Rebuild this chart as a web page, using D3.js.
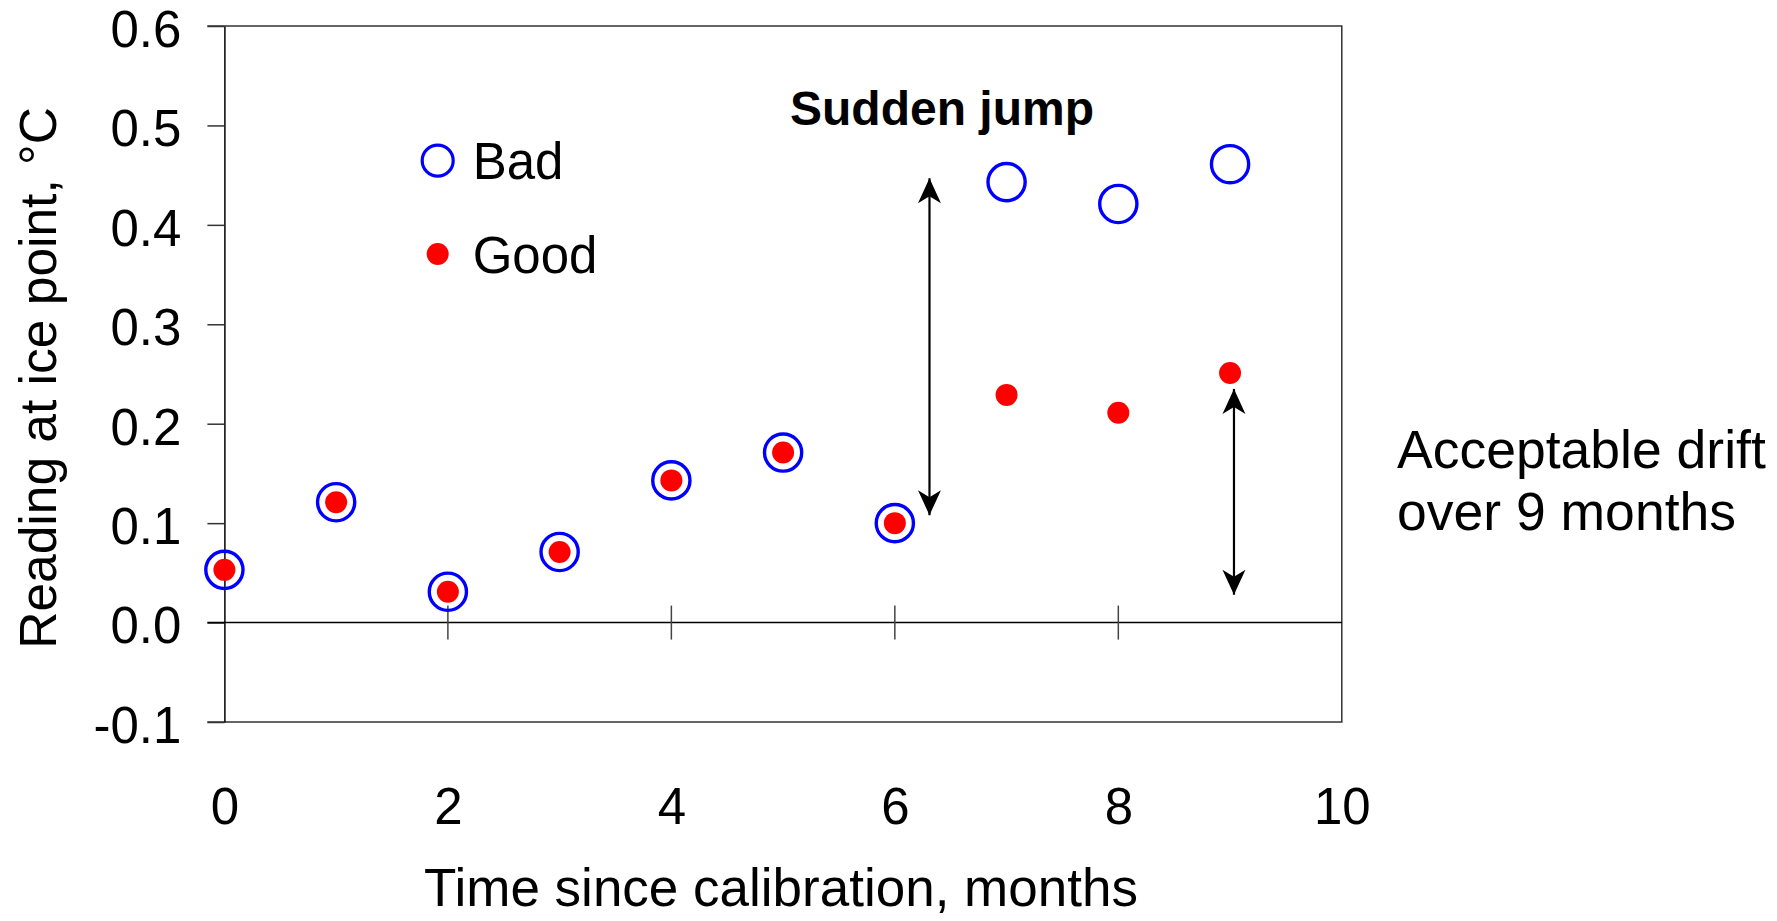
<!DOCTYPE html>
<html>
<head>
<meta charset="utf-8">
<script src="https://cdn.jsdelivr.net/npm/d3@7"></script>
<style>
  body { margin: 0; background: #fff; }
  text { font-family: "Liberation Sans", Arial, sans-serif; fill: #000; }
</style>
</head>
<body>
<div id="chart"></div>
<script>
// data
const months = [0, 1, 2, 3, 4, 5, 6, 7, 8, 9];
const badReadings = [0.053, 0.121, 0.031, 0.071, 0.143, 0.171, 0.100, 0.443, 0.421, 0.461];
const goodReadings = [0.053, 0.121, 0.031, 0.071, 0.143, 0.171, 0.100, 0.229, 0.211, 0.251];

const xTicks = [0, 2, 4, 6, 8, 10];
const xTickLabels = ["0", "2", "4", "6", "8", "10"];
const yTicks = [0.6, 0.5, 0.4, 0.3, 0.2, 0.1, 0.0, -0.1];
const yTickLabels = ["0.6", "0.5", "0.4", "0.3", "0.2", "0.1", "0.0", "-0.1"];

// annotation arrows, in data units (month, reading from -> to)
const jumpArrow = { month: 6.31, from: 0.108, to: 0.447 };
const driftArrow = { month: 9.035, from: 0.028, to: 0.235 };

const width = 1777, height = 921;
const plot = { left: 224.4, right: 1341.8, top: 26, bottom: 722 };

const svg = d3.select("#chart")
    .append("svg")
    .attr("width", width)
    .attr("height", height);

svg.append("rect").attr("width", width).attr("height", height).attr("fill", "#fff");

// Scales
const xScale = d3.scaleLinear().domain([0, 10]).range([plot.left, plot.right]);
const yScale = d3.scaleLinear().domain([-0.1, 0.6]).range([plot.bottom, plot.top]);

// Arrow head marker
const defs = svg.append("defs");
defs.append("marker")
    .attr("id", "head")
    .attr("markerUnits", "userSpaceOnUse")
    .attr("viewBox", "-26 -13 27 26")
    .attr("refX", 0)
    .attr("refY", 0)
    .attr("markerWidth", 27)
    .attr("markerHeight", 26)
    .attr("orient", "auto-start-reverse")
    .append("path")
    .attr("d", "M0,0 L-25,-11.5 L-18,0 L-25,11.5 Z")
    .attr("fill", "#000");

// Frame: top, right, bottom
const frame = svg.append("g").attr("stroke", "#333").attr("stroke-width", 1.5).attr("fill", "none");
frame.append("path")
    .attr("d", `M${plot.left - 17},${plot.top}H${plot.right}V${plot.bottom}H${plot.left - 17}`);

// Y axis
const yAxis = svg.append("g")
    .attr("transform", `translate(${plot.left},0)`)
    .call(d3.axisLeft(yScale)
        .tickValues(yTicks)
        .tickFormat((d, i) => yTickLabels[i])
        .tickSizeInner(17)
        .tickSizeOuter(0)
        .tickPadding(26));
yAxis.select(".domain").attr("stroke", "#000").attr("stroke-width", 1.5);
yAxis.selectAll(".tick line").attr("stroke", "#333").attr("stroke-width", 1.5);
yAxis.selectAll(".tick text")
    .attr("dy", "0.4em")
    .style("font-size", "51px")
    .style("font-family", "'Liberation Sans', Arial, sans-serif");

// Zero line with crossing ticks
const zeroY = yScale(0);
svg.append("line")
    .attr("x1", plot.left - 17).attr("x2", plot.right)
    .attr("y1", zeroY).attr("y2", zeroY)
    .attr("stroke", "#000").attr("stroke-width", 1.5);

svg.append("g").selectAll("line")
    .data(xTicks.filter(d => d > 0 && d < 10))
    .enter()
    .append("line")
    .attr("x1", d => xScale(d)).attr("x2", d => xScale(d))
    .attr("y1", zeroY - 17).attr("y2", zeroY + 17)
    .attr("stroke", "#444").attr("stroke-width", 1.5);

// X tick labels sit below the plot
const xAxis = svg.append("g")
    .attr("transform", `translate(0,${plot.bottom})`)
    .call(d3.axisBottom(xScale)
        .tickValues(xTicks)
        .tickFormat((d, i) => xTickLabels[i])
        .tickSize(0)
        .tickPadding(66));
xAxis.select(".domain").remove();
xAxis.selectAll(".tick text")
    .style("font-size", "51px")
    .style("font-family", "'Liberation Sans', Arial, sans-serif");

// Axis titles
svg.append("text")
    .attr("x", 781)
    .attr("y", 906)
    .attr("text-anchor", "middle")
    .style("font-size", "53px")
    .text("Time since calibration, months");

svg.append("text")
    .attr("transform", `translate(56,378) rotate(-90)`)
    .attr("text-anchor", "middle")
    .style("font-size", "51.5px")
    .text("Reading at ice point, °C");

// Bad: open blue circles
svg.append("g").selectAll("circle")
    .data(months)
    .enter()
    .append("circle")
    .attr("cx", d => xScale(d))
    .attr("cy", (d, i) => yScale(badReadings[i]))
    .attr("r", 18.6)
    .attr("fill", "none")
    .attr("stroke", "#0000ff")
    .attr("stroke-width", 3.4);

// Good: filled red dots
svg.append("g").selectAll("circle")
    .data(months)
    .enter()
    .append("circle")
    .attr("cx", d => xScale(d))
    .attr("cy", (d, i) => yScale(goodReadings[i]))
    .attr("r", 11)
    .attr("fill", "#ff0000");

// Legend
const legend = svg.append("g").attr("transform", "translate(437.7,0)");
legend.append("circle")
    .attr("cx", 0).attr("cy", 160.7).attr("r", 15.5)
    .attr("fill", "none").attr("stroke", "#0000ff").attr("stroke-width", 3.2);
legend.append("text")
    .attr("x", 35).attr("y", 179.3)
    .style("font-size", "51px")
    .text("Bad");
legend.append("circle")
    .attr("cx", 0).attr("cy", 254).attr("r", 11)
    .attr("fill", "#ff0000");
legend.append("text")
    .attr("x", 35).attr("y", 272.7)
    .style("font-size", "51px")
    .text("Good");

// Annotations
[jumpArrow, driftArrow].forEach(a => {
    svg.append("line")
        .attr("x1", xScale(a.month)).attr("x2", xScale(a.month))
        .attr("y1", yScale(a.from)).attr("y2", yScale(a.to))
        .attr("stroke", "#000")
        .attr("stroke-width", 2.2)
        .attr("marker-start", "url(#head)")
        .attr("marker-end", "url(#head)");
});

svg.append("text")
    .attr("x", 790)
    .attr("y", 125)
    .style("font-size", "48px")
    .style("font-weight", "bold")
    .text("Sudden jump");

svg.append("text")
    .attr("x", 1397)
    .attr("y", 468)
    .style("font-size", "53.5px")
    .text("Acceptable drift");

svg.append("text")
    .attr("x", 1397)
    .attr("y", 530)
    .style("font-size", "53.5px")
    .text("over 9 months");
</script>
</body>
</html>
